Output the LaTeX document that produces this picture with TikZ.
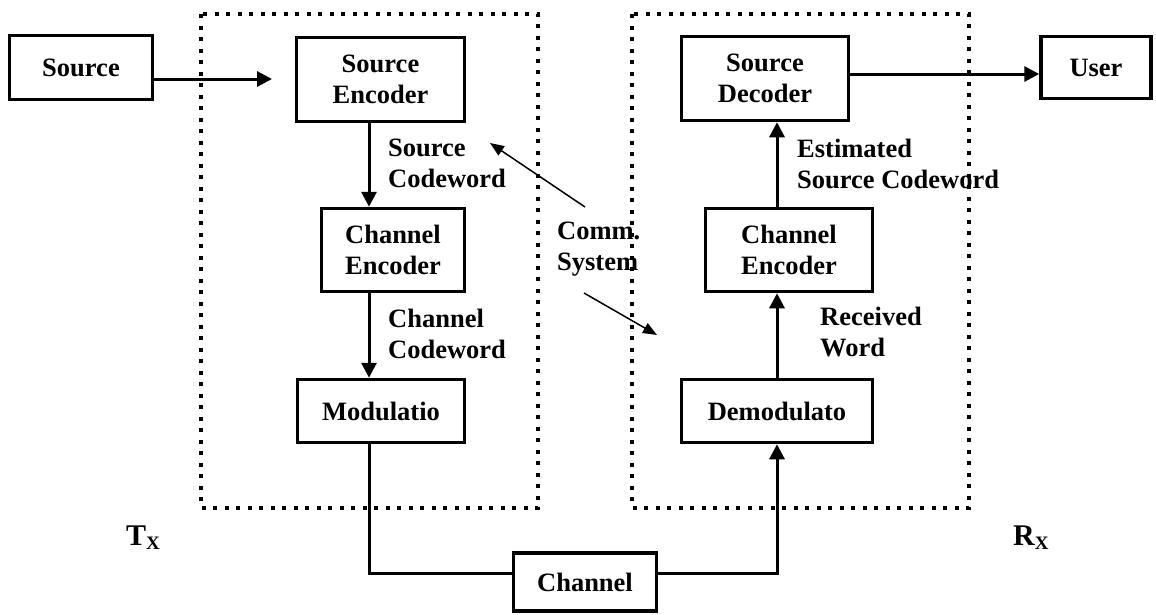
\documentclass[tikz,border=0pt]{standalone}
\usepackage{fontspec}
\setmainfont{Liberation Serif}
\usetikzlibrary{arrows.meta}
\begin{document}
\begin{tikzpicture}[x=1pt,y=-1pt,
  box/.style={draw, line width=3.5pt, inner sep=0pt, align=center, font=\bfseries\fontsize{26.5}{31}\selectfont},
  lbl/.style={anchor=west, align=left, inner sep=0pt, font=\bfseries\fontsize{26.5}{31}\selectfont},
  flow/.style={line width=3pt, -{Triangle[length=15pt,width=15pt]}},
  wire/.style={line width=3pt},
  note/.style={line width=1.5pt, -{Triangle[length=14pt,width=11pt]}},
  grp/.style={line width=4pt, dash pattern=on 4pt off 7.5pt}]
\useasboundingbox (0,0) rectangle (1156,614);
% groups
\draw[grp] (201,14) rectangle (538,508);
\draw[grp] (632,14) rectangle (969,508);
% blocks
\node[box, minimum width=143pt, minimum height=64pt] (src) at (81,67.5) {Source};
\node[box, minimum width=168pt, minimum height=84pt] (senc) at (380.5,79.5) {Source\\Encoder};
\node[box, minimum width=143pt, minimum height=83pt] (cenc) at (393,250) {Channel\\Encoder};
\node[box, minimum width=167pt, minimum height=63pt] (mod) at (381,411) {Modulatio};
\node[box, minimum width=143pt, minimum height=58pt] (chan) at (585,582) {Channel};
\node[box, minimum width=167pt, minimum height=84pt] (sdec) at (765,78.5) {Source\\Decoder};
\node[box, minimum width=167pt, minimum height=83pt] (cencR) at (789,250) {Channel\\Encoder};
\node[box, minimum width=191pt, minimum height=63pt] (demod) at (777,411) {Demodulato};
\node[box, minimum width=110pt, minimum height=62pt] (user) at (1096,67.5) {User};
% helper coordinates
\coordinate (ya) at (0,79);
\coordinate (tipa) at (272,79);
\coordinate (yb) at (0,74);
\coordinate (cl) at (369,0);
\coordinate (hl) at (0,573);
% connectors
\draw[flow] (src.east |- ya) -- (tipa);
\draw[flow] (senc.south -| cl) -- (cenc.north -| cl);
\draw[flow] (cenc.south -| cl) -- (mod.north -| cl);
\draw[wire] (mod.south -| cl) |- (chan.west |- hl);
\draw[flow] (chan.east |- hl) -| (demod.south);
\draw[flow] (demod.north) -- (cencR.south -| demod.north);
\draw[flow] (cencR.north -| demod.north) -- (sdec.south -| demod.north);
\draw[flow] (sdec.east |- yb) -- (user.west |- yb);
% labels
\node[lbl] (l1) at (388,163.5) {Source\\Codeword};
\node[lbl] (l2) at (388,334) {Channel\\Codeword};
\node[lbl] (l3) at (797,163.5) {Estimated\\Source Codeword};
\node[lbl] (l4) at (820,332) {Received\\Word};
\node[lbl] (comm) at (557,249) {Comm.\\System};
\coordinate (c1s) at (585,207);
\coordinate (c1t) at (490,143);
\coordinate (c2s) at (584,293);
\coordinate (c2t) at (657,335);
\draw[note] (c1s) -- (c1t);
\draw[note] (c2s) -- (c2t);
\node[anchor=west, inner sep=0pt] (tx) at (126,538) {\bfseries\fontsize{30}{30}\selectfont T\raisebox{-4pt}{\fontsize{19}{19}\selectfont X}};
\node[anchor=west, inner sep=0pt] (rx) at (1013,538) {\bfseries\fontsize{30}{30}\selectfont R\raisebox{-4pt}{\fontsize{19}{19}\selectfont X}};
\end{tikzpicture}
\end{document}
